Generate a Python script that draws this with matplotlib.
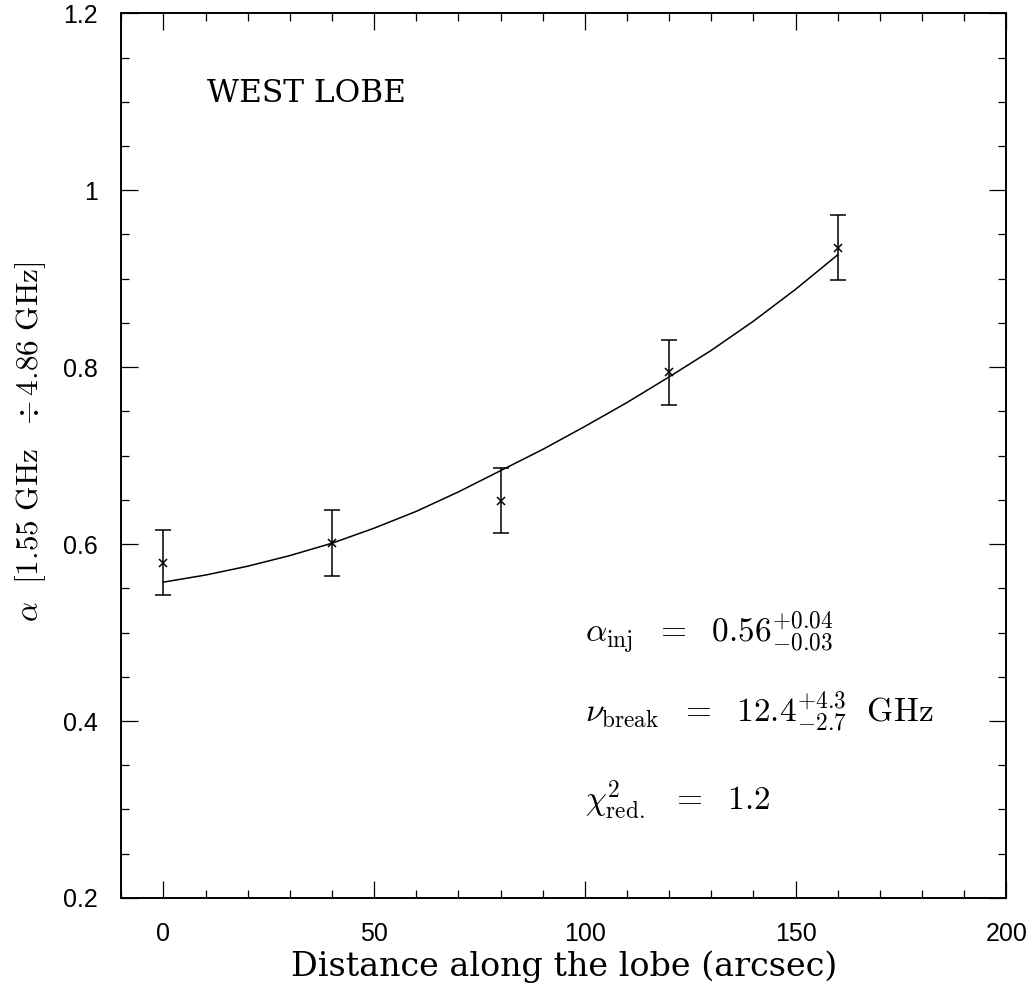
"""
Spectral index along the west lobe, with the fitted ageing curve.
"""

import matplotlib
matplotlib.use('Agg')
import matplotlib.pyplot as plt
from matplotlib.ticker import MultipleLocator

# Data

dist = [0, 40, 80, 120, 160]
alpha = [0.579, 0.601, 0.649, 0.794, 0.935]
alpha_err = [0.037, 0.037, 0.037, 0.037, 0.037]

fit_dist = [0, 10, 20, 30, 40, 50, 60, 70, 80, 90, 100, 110, 120, 130, 140, 150, 160]
fit_alpha = [0.557, 0.565, 0.575, 0.587, 0.601, 0.618, 0.637, 0.659, 0.683,
             0.707, 0.733, 0.760, 0.789, 0.819, 0.852, 0.888, 0.927]

plt.rcParams['mathtext.fontset'] = 'cm'

fig = plt.figure(figsize=(10.32, 9.92), dpi=100)
ax = fig.add_axes([0.1175, 0.0948, 0.8576, 0.8918])

ax.plot(fit_dist, fit_alpha, 'k-', linewidth=1.1)
ax.errorbar(dist, alpha, yerr=alpha_err, fmt='x', color='k', markersize=6,
            markeredgewidth=1.1, elinewidth=1.1, capsize=5.5, capthick=1.1)

ax.set_xlim(-10, 200)
ax.set_ylim(0.2, 1.2)
ax.xaxis.set_major_locator(MultipleLocator(50))
ax.xaxis.set_minor_locator(MultipleLocator(10))
ax.yaxis.set_minor_locator(MultipleLocator(0.05))
ax.set_yticks([0.2, 0.4, 0.6, 0.8, 1.0, 1.2])
ax.set_yticklabels(['0.2', '0.4', '0.6', '0.8', '1', '1.2'])

ax.tick_params(which='both', direction='in', top=True, right=True, width=0.9)
ax.tick_params(which='major', length=12, pad=17, labelsize=18)
ax.tick_params(which='minor', length=6)
for lab in ax.get_xticklabels() + ax.get_yticklabels():
    lab.set_family('Liberation Sans')
for sp in ax.spines.values():
    sp.set_linewidth(1.4)

ax.set_xlabel("Distance along the lobe (arcsec)", fontsize=24,
              family='DejaVu Serif')
ax.xaxis.set_label_coords(0.5, -0.0596)
ax.set_ylabel(r'$\alpha\ \ [1.55\ \mathrm{GHz}\ \ \div 4.86\ \mathrm{GHz}]$',
              fontsize=22.5)
ax.yaxis.set_label_coords(-0.083, 0.516)

ax.text(10.4, 1.10, "WEST LOBE", fontsize=22.5, family='DejaVu Serif',
        va='baseline')
ax.text(100, 0.488, r'$\alpha_{\mathrm{inj}}\ \ =\ \ 0.56^{+0.04}_{-0.03}$',
        fontsize=24, va='baseline')
ax.text(100, 0.399,
        r'$\nu_{\mathrm{break}}\ \ =\ \ 12.4^{+4.3}_{-2.7}\ \ \mathrm{GHz}$',
        fontsize=24, va='baseline')
ax.text(100, 0.299, r'$\chi^{2}_{\mathrm{red.}}\ \ =\ \ 1.2$',
        fontsize=24, va='baseline')

fig.savefig("out.png", dpi=100)
print("Saved out.png")
